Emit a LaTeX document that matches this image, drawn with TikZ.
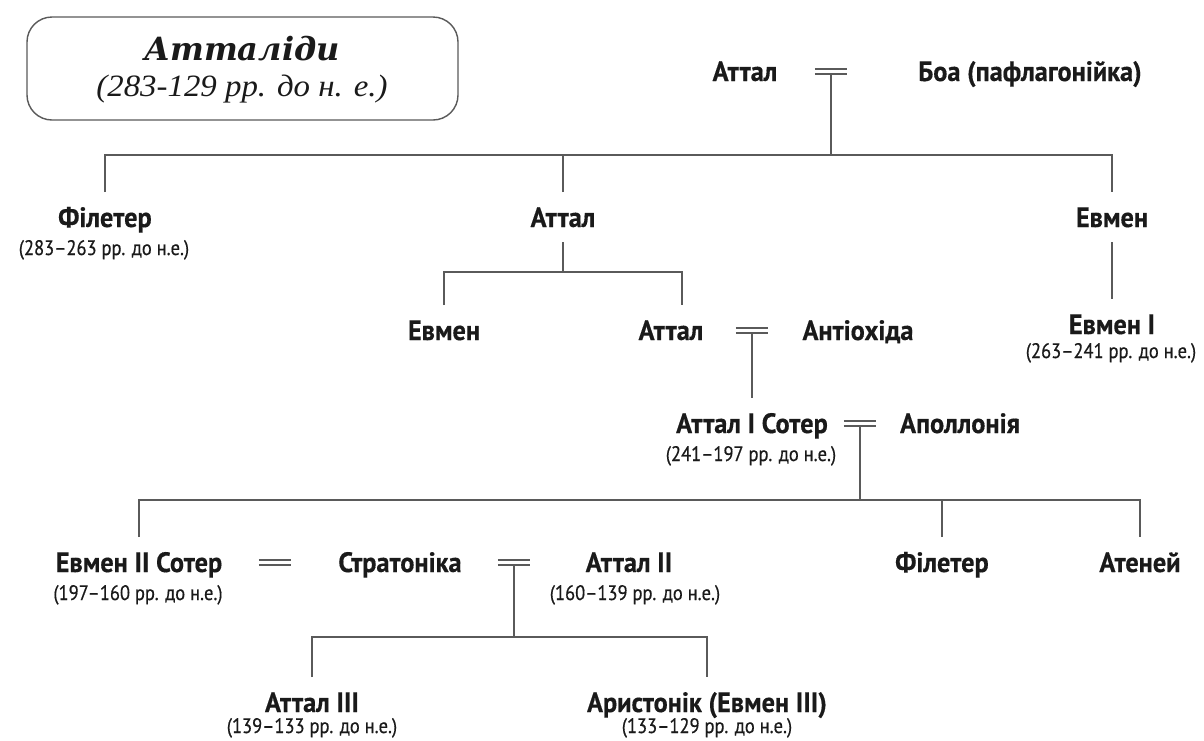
\documentclass[tikz,border=0pt]{standalone}
\usepackage{fontspec}
\setmainfont{Liberation Serif}
\newfontfamily\titlefont[FakeStretch=1.06]{Liberation Serif}
\newfontfamily\headfont{DejaVu Serif}
\newfontfamily\namefont[FakeStretch=0.94,FakeBold=0.4]{PT Sans}
\newfontfamily\datefont[FakeStretch=0.88,FakeBold=0.5]{PT Sans}
\usetikzlibrary{calc}
\definecolor{ink}{HTML}{1A1A1A}
\definecolor{linec}{HTML}{5A5A5A}
\begin{document}
\begin{tikzpicture}[x=1pt,y=-1pt,
  person/.style={font=\namefont\bfseries\fontsize{28}{30}\selectfont, text=ink,
    inner sep=0pt, text height=20pt, text depth=0pt, outer ysep=15pt, anchor=base},
  dates/.style={font=\datefont\fontsize{21}{23}\selectfont, text=ink, inner sep=0pt, anchor=base},
  conn/.style={draw=linec, line width=1.7pt},
  marr/.style={minimum width=32pt, minimum height=5pt, inner sep=0pt},
  titlebox/.style={draw=linec, line width=1.4pt, rounded corners=25pt, inner sep=0pt},
]
\fill[white] (0,0) rectangle (1204,740);
\useasboundingbox (0,0) rectangle (1204,740);

% title
\node[titlebox, minimum width=431pt, minimum height=103pt] (title) at (242.5,68.5) {};
\node[anchor=base, font=\headfont\bfseries\itshape\fontsize{32}{34}\selectfont, text=ink] (t1) at (242,60) {Атталіди};
\node[anchor=base, font=\titlefont\itshape\fontsize{31}{33}\selectfont, text=ink] (t2) at (242,96) {(283-129 рр. до н. е.)};

% generation 0
\node[person] (att0) at (745,81) {Аттал};
\node[marr] (m1) at (831,71.5) {};
\node[person] (boa) at (1030,81) {Боа (пафлагонійка)};

% generation 1
\node[person] (fil1) at (105,227) {Філетер};
\node[dates] (fil1d) at (104,255) {(283–263 рр. до н.е.)};
\node[person] (att1) at (563,227) {Аттал};
\node[person] (eum1) at (1112,227) {Евмен};

% generation 2
\node[person] (eum2) at (444,340) {Евмен};
\node[person] (att2) at (671,340) {Аттал};
\node[marr] (m2) at (752,330.5) {};
\node[person] (ant) at (858,340) {Антіохіда};
\node[person] (eumI) at (1112,334) {Евмен I};
\node[dates] (eumId) at (1111,358) {(263–241 рр. до н.е.)};

% generation 3
\node[person] (att3) at (752,433) {Аттал I Сотер};
\node[dates] (att3d) at (751,461) {(241–197 рр. до н.е.)};
\node[marr] (m3) at (860,423.5) {};
\node[person] (apo) at (960,433) {Аполлонія};

% generation 4
\node[person] (eum4) at (139,572) {Евмен II Сотер};
\node[dates] (eum4d) at (138,600) {(197–160 рр. до н.е.)};
\node[marr] (m4) at (275,562.5) {};
\node[person] (str) at (400,572) {Стратоніка};
\node[marr] (m5) at (514,562.5) {};
\node[person] (att4) at (629,572) {Аттал II};
\node[dates] (att4d) at (635,600) {(160–139 рр. до н.е.)};
\node[person] (fil4) at (942,572) {Філетер};
\node[person] (ath) at (1140,572) {Атеней};

% generation 5
\node[person] (att5) at (312,712) {Аттал III};
\node[dates] (att5d) at (312,733) {(139–133 рр. до н.е.)};
\node[person] (ari) at (707,712) {Аристонік (Евмен III)};
\node[dates] (arid) at (707,733) {(133–129 рр. до н.е.)};

% marriage signs
\foreach \m in {m1,m2,m3,m4,m5}{
  \draw[conn] (\m.north west) -- (\m.north east) (\m.south west) -- (\m.south east);
}

% connectors
\coordinate (bus1) at (831,155);
\draw[conn] (m1.south) -- (bus1);
\draw[conn] (fil1.north) |- (bus1) -| (eum1.north);
\draw[conn] (att1.north) -- (att1.north |- bus1);

\coordinate (bus2) at (563,272);
\draw[conn] (att1.south) -- (bus2);
\draw[conn] (eum2.north) |- (bus2) -| ([xshift=11pt]att2.north);

\draw[conn] (eum1.south) -- (eumI.north);

\draw[conn] (m2.south) -- (att3.north);

\coordinate (bus3) at (860,500);
\draw[conn] (m3.south) -- (bus3);
\draw[conn] (eum4.north) |- (bus3) -| (ath.north);
\draw[conn] (fil4.north) -- (fil4.north |- bus3);

\coordinate (bus4) at (514,637);
\draw[conn] (m5.south) -- (bus4);
\draw[conn] (att5.north) |- (bus4) -| (ari.north);
\end{tikzpicture}
\end{document}
